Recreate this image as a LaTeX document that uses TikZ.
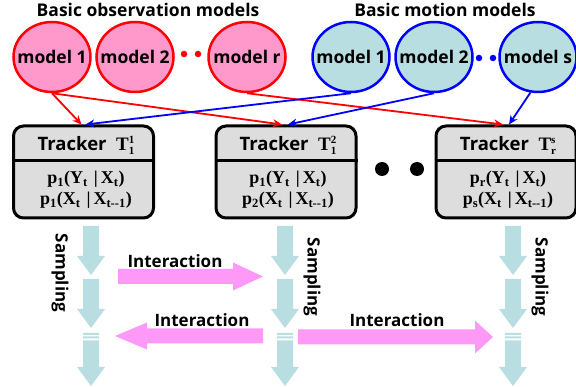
\documentclass[tikz,border=0pt]{standalone}
\usepackage{fontspec}
\setmainfont{Open Sans}
\newfontfamily\serifbf{Liberation Serif}
\usetikzlibrary{positioning,shapes.geometric,arrows.meta}

\definecolor{obspink}{HTML}{FF99CC}
\definecolor{motblue}{HTML}{B9DEE2}
\definecolor{intpink}{HTML}{FF99F7}
\definecolor{trkgray}{HTML}{DDDDDD}

\newcommand{\sub}[1]{\textsubscript{#1}}
% model names do not widen the ellipse
\newcommand{\mname}[1]{\makebox[0pt]{#1}}
% tracker title with stacked indices
\newcommand{\trk}[2]{Tracker\ \ {\serifbf\fontsize{19}{20}\selectfont T%
  \rlap{\raisebox{6.5pt}{\fontsize{11}{11}\selectfont #2}}%
  \raisebox{-4pt}{\fontsize{11}{11}\selectfont #1}}}
% light blue sampling arrow: x, top of shaft, tip
\newcommand{\samparrow}[3]{%
  \fill[motblue] (#1-8,#2) -- (#1+8,#2) -- (#1+8,#3-19) -- (#1+14,#3-19)
    -- (#1,#3) -- (#1-14,#3-19) -- (#1-8,#3-19) -- cycle;}
\newcommand{\sampbreak}[2]{%
  \fill[motblue] (#1-8,#2) rectangle (#1+8,#2+2) (#1-8,#2+3.5) rectangle (#1+8,#2+5.5);}
% pink interaction arrow: tail x, head base x, tip x, y, half head height
\newcommand{\intarrow}[5]{%
  \fill[intpink] (#1,#4-7.5) -- (#2,#4-7.5) -- (#2,#4-#5) -- (#3,#4)
    -- (#2,#4+#5) -- (#2,#4+7.5) -- (#1,#4+7.5) -- cycle;}

\tikzset{
  obsm/.style={ellipse, draw=red, fill=obspink, line width=2.5pt,
    minimum width=77pt, minimum height=70pt, inner sep=0pt,
    font=\bfseries\fontsize{17.5}{20}\selectfont},
  motm/.style={obsm, draw=blue, fill=motblue},
  ttl/.style={font=\bfseries\fontsize{17.5}{20}\selectfont, inner sep=0pt},
  trkbox/.style={draw=black, fill=trkgray, line width=3pt, rounded corners=10pt,
    minimum width=140pt, minimum height=92pt},
  trkhead/.style={font=\bfseries\fontsize{18.5}{20}\selectfont, inner sep=0pt},
  trkbody/.style={align=center, inner sep=0pt,
    font=\serifbf\bfseries\fontsize{18}{21}\selectfont},
  obsarr/.style={draw=red, line width=1.8pt, -{Stealth[length=9pt,width=8pt]}},
  motarr/.style={obsarr, draw=blue},
  bigdot/.style={circle, fill=black, inner sep=0pt, minimum size=14pt},
  smalldot/.style={circle, inner sep=0pt, minimum size=6.5pt},
  samplab/.style={rotate=-90, inner sep=0pt, font=\bfseries\fontsize{17}{20}\selectfont},
  intlab/.style={inner sep=0pt, font=\bfseries\fontsize{17}{20}\selectfont},
}

\begin{document}
\begin{tikzpicture}[x=1pt, y=-1pt]
  \useasboundingbox (0,0) rectangle (576,387);

  % model banks
  \node[ttl] (obstitle) at (148,10) {Basic observation models};
  \node[ttl] (mottitle) at (445,10) {Basic motion models};
  \node[obsm] (obs1) at (52,57) {\mname{model 1}};
  \node[obsm] (obs2) at (135,57) {\mname{model 2}};
  \node[obsm] (obsr) at (247,57) {\mname{model r}};
  \node[smalldot, fill=red] (od1) at (184,54) {};
  \node[smalldot, fill=red] (od2) at (198,54) {};
  \node[motm] (mot1) at (351,57) {\mname{model 1}};
  \node[motm] (mot2) at (434,57) {\mname{model 2}};
  \node[motm] (mots) at (538,57) {\mname{model s}};
  \node[smalldot, fill=blue] (md1) at (479,58) {};
  \node[smalldot, fill=blue] (md2) at (493,58) {};

  % trackers
  \foreach \i/\x in {1/83.5, 2/286, 3/506} {
    \node[trkbox] (trk\i) at (\x,172) {};
    \draw[line width=3pt] ([yshift=-36pt]trk\i.north west) -- ([yshift=-36pt]trk\i.north east);
  }
  \node[trkhead] (hd1) at (86,145) {\trk{1}{1}};
  \node[trkhead] (hd2) at (288,145) {\trk{1}{2}};
  \node[trkhead] (hd3) at (508,145) {\trk{r}{s}};
  \node[trkbody] (bd1) at (86,190) {p\sub{1}(Y\sub{t}\,\,|\,X\sub{t})\\p\sub{1}(X\sub{t}\,\,|\,X\sub{t--1})};
  \node[trkbody] (bd2) at (288,190) {p\sub{1}(Y\sub{t}\,\,|\,X\sub{t})\\p\sub{2}(X\sub{t}\,\,|\,X\sub{t--1})};
  \node[trkbody] (bd3) at (508,190) {p\sub{r}(Y\sub{t}\,\,|\,X\sub{t})\\p\sub{s}(X\sub{t}\,\,|\,X\sub{t--1})};
  \node[bigdot] (bd4) at (382,169) {};
  \node[bigdot] (bd5) at (417,169) {};

  % models feeding the trackers
  \draw[obsarr] (obs1.south) -- ([xshift=-2pt]trk1.north);
  \draw[obsarr] (obs1.south) -- ([xshift=-4pt]trk2.north);
  \draw[obsarr] (obsr.south) -- ([xshift=-3pt]trk3.north);
  \draw[motarr] (mot1.south) -- ([xshift=2pt]trk1.north);
  \draw[motarr] (mot2.south) -- ([xshift=2pt]trk2.north);
  \draw[motarr] (mots.258) -- ([xshift=3pt]trk3.north);

  % sampling chains
  \foreach \x in {91, 285, 513} {
    \samparrow{\x}{226}{275}
    \samparrow{\x}{279}{328}
    \sampbreak{\x}{333}
    \samparrow{\x}{340.5}{386}
  }
  \node[samplab] (smp1) at (60,273) {Sampling};
  \node[samplab] (smp2) at (312,277) {Sampling};
  \node[samplab] (smp3) at (540,277) {Sampling};

  % interaction between trackers
  \intarrow{118}{233}{263}{276.5}{14}
  \intarrow{263}{147}{115}{336}{13.5}
  \intarrow{298}{475}{493}{337}{16.5}
  \node[intlab] (int1) at (175,261) {Interaction};
  \node[intlab] (int2) at (202,320) {Interaction};
  \node[intlab] (int3) at (397,320) {Interaction};
\end{tikzpicture}
\end{document}
